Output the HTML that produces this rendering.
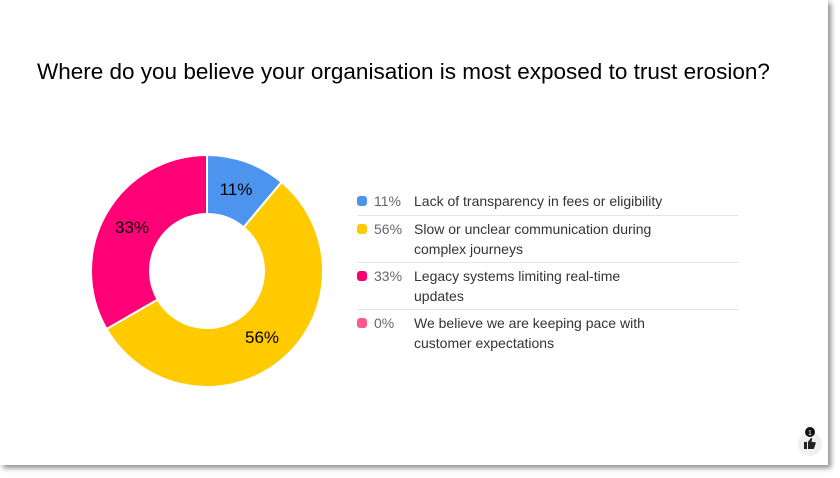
<!DOCTYPE html>
<html><head><style>
body{margin:0;width:840px;height:478px;background:#fff;font-family:"Liberation Sans",Arial,sans-serif;overflow:hidden}
.card{position:absolute;left:0;top:0;width:828px;height:465px;background:#fff;box-shadow:3px 3px 5px rgba(0,0,0,0.45)}
h1{position:absolute;left:37px;top:59px;margin:0;font-size:22.5px;font-weight:normal;color:#000;white-space:nowrap}
.row{position:absolute;left:357px;width:382px;font-size:14px;line-height:20px;color:#333}
.row .d{position:absolute;left:0;top:5px;width:10px;height:10px;border-radius:3px}
.row .p{position:absolute;left:17px;top:0;color:#666}
.row .t{position:absolute;left:57px;top:0;width:242px}
.sep{position:absolute;left:357px;width:382px;height:1px;background:#e6e6e6}
</style></head><body>
<div class="card">
<h1>Where do you believe your organisation is most exposed to trust erosion?</h1>
<svg width="840" height="478" style="position:absolute;left:0;top:0">
<g transform="translate(207,271)" stroke="#fff" stroke-width="2">
<path d="M0,-116 A116,116 0 0 1 74.56,-88.86 L36.64,-43.66 A57,57 0 0 0 0,-57 Z" fill="#4d94ef"/>
<path d="M74.56,-88.86 A116,116 0 1 1 -100.46,58 L-49.36,28.5 A57,57 0 1 0 36.64,-43.66 Z" fill="#ffca00"/>
<path d="M-100.46,58 A116,116 0 0 1 0,-116 L0,-57 A57,57 0 0 0 -49.36,28.5 Z" fill="#ff0077"/>
</g>
<g font-family="Liberation Sans,Arial,sans-serif" font-size="17" fill="#000" text-anchor="middle">
<text x="236" y="195">11%</text>
<text x="262" y="343">56%</text>
<text x="132" y="233">33%</text>
</g>
<circle cx="810" cy="444" r="12" fill="#f0f0f0"/>
<circle cx="810" cy="432" r="5" fill="#111"/>
<text x="810" y="435" font-size="7" fill="#fff" text-anchor="middle" font-family="Liberation Sans">1</text>
<path d="M804,442h3v7h-3zM808,442l3-4c1,0 1.5,1 1,2l-0.5,2h3c1,0 1.5,1 1,2l-1.5,4.5c-0.3,0.6-0.8,0.5-1,0.5h-5z" fill="#222"/>
</svg>
<div class="row" style="top:191px"><span class="d" style="background:#4d94ef"></span><span class="p">11%</span><span class="t" style="white-space:nowrap">Lack of transparency in fees or eligibility</span></div>
<div class="sep" style="top:215px"></div>
<div class="row" style="top:219px"><span class="d" style="background:#ffca00"></span><span class="p">56%</span><span class="t">Slow or unclear communication during complex journeys</span></div>
<div class="sep" style="top:262px"></div>
<div class="row" style="top:266px"><span class="d" style="background:#ff0077"></span><span class="p">33%</span><span class="t">Legacy systems limiting real-time updates</span></div>
<div class="sep" style="top:309px"></div>
<div class="row" style="top:313px"><span class="d" style="background:#ff5a8e"></span><span class="p">0%</span><span class="t">We believe we are keeping pace with customer expectations</span></div>
</div>
</body></html>
